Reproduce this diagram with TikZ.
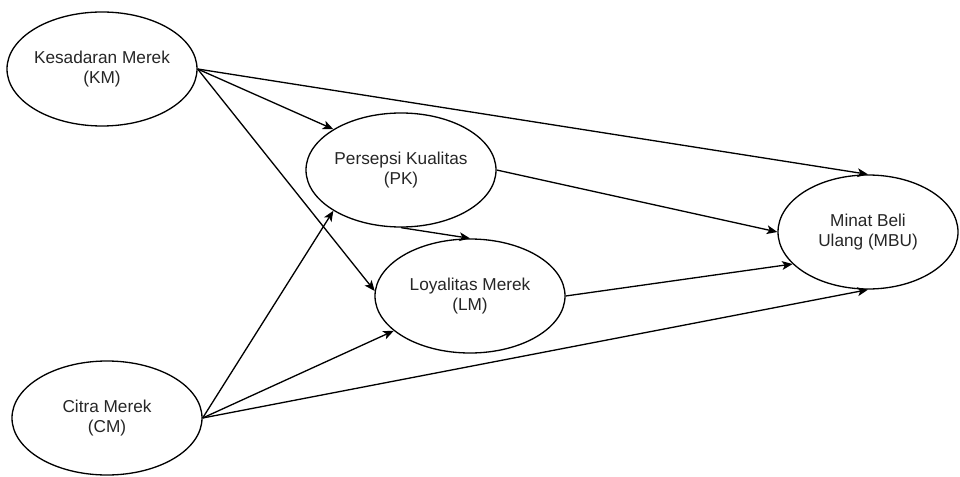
\documentclass[tikz,border=0pt]{standalone}
\usepackage{fontspec}
\setmainfont{Liberation Sans}
\usepackage{tikz}
\usetikzlibrary{positioning,shapes.geometric,arrows.meta}

\begin{document}
\begin{tikzpicture}[
                latent/.style={ellipse, draw=black, line width=0.75pt, fill=white,
                    minimum width=3.8cm, minimum height=2.28cm,
                    inner xsep=-2mm, inner ysep=0pt, align=center,
                    text=black!85, font=\fontsize{9.8pt}{11.6pt}\selectfont},
                arrow/.style={-{Stealth[length=6pt, width=5pt, inset=1.5pt]}, draw=black, line width=0.75pt}
            ]
                \useasboundingbox (0,0) rectangle (19.2,9.52);

                \node[latent] (KM) at (2.04, 8.14) {Kesadaran Merek\\(KM)};
                \node[latent] (CM) at (2.14, 1.16) {Citra Merek\\(CM)};
                \node[latent] (PK) at (8.02, 6.12) {Persepsi Kualitas\\(PK)};
                \node[latent] (LM) at (9.40, 3.60) {Loyalitas Merek\\(LM)};
                \node[latent, minimum width=3.6cm] (MBU) at (17.36, 4.88) {Minat Beli\\Ulang (MBU)};

                \draw[arrow] (KM.east) -- (PK.north west);
                \draw[arrow] (KM.east) -- (LM.177);
                \draw[arrow] (KM.east) -- (MBU.north);
                \draw[arrow] (PK.south) -- (LM.north);
                \draw[arrow] (PK.east) -- (MBU.west);
                \draw[arrow] (LM.east) -- (MBU.203);
                \draw[arrow] (CM.east) -- (PK.south west);
                \draw[arrow] (CM.east) -- (LM);
                \draw[arrow] (CM.east) -- (MBU.south);
            \end{tikzpicture}
\end{document}
